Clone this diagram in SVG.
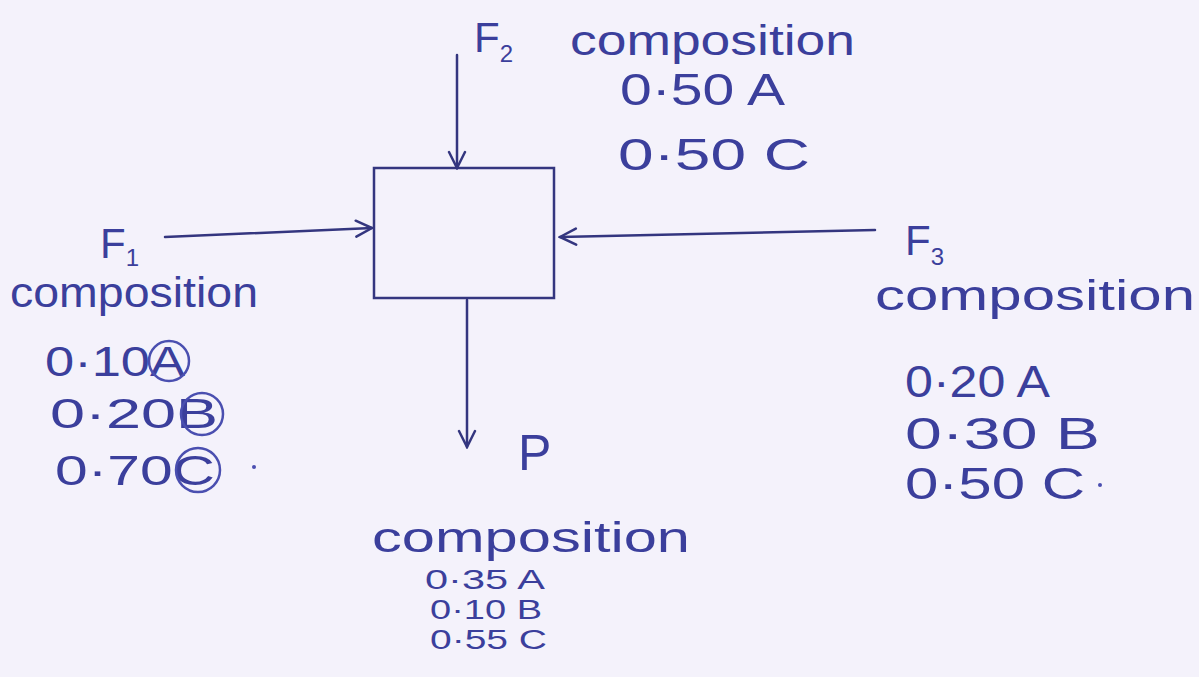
<svg xmlns="http://www.w3.org/2000/svg" width="1199" height="677" viewBox="0 0 1199 677">
<style>
.ink{fill:#3b3f9c;font-family:"Liberation Sans","DejaVu Sans",sans-serif;}
.big{font-size:42px;}
.num{font-size:44px;}
.sm{font-size:27px;}
.sub{font-size:24px;}
.ln{stroke:#34367f;stroke-width:2.5;fill:none;stroke-linecap:round;}
.circ{stroke:#4a4fb0;stroke-width:2.5;fill:none;}
</style>
<defs>
<marker id="arr" viewBox="0 0 20 20" refX="18" refY="10" markerWidth="20" markerHeight="20" markerUnits="userSpaceOnUse" orient="auto">
<polyline points="2,2 18,10 2,18" fill="none" stroke="#34367f" stroke-width="2.5" stroke-linecap="round"/>
</marker>
</defs>
<rect width="1199" height="677" fill="#f4f2fb"/>
<g id="mixer">
<rect x="374" y="168" width="180" height="130" class="ln"/>
</g>
<g id="connectors">
<line x1="457" y1="55" x2="457" y2="168" class="ln" marker-end="url(#arr)"/>
<line x1="165" y1="237" x2="372" y2="228" class="ln" marker-end="url(#arr)"/>
<line x1="875" y1="230" x2="560" y2="237" class="ln" marker-end="url(#arr)"/>
<line x1="467" y1="300" x2="467" y2="447" class="ln" marker-end="url(#arr)"/>
</g>
<g id="F2">
<text class="ink big" x="474" y="52">F<tspan class="sub" dy="10">2</tspan></text>
<text class="ink big" x="570" y="55" textLength="285" lengthAdjust="spacingAndGlyphs">composition</text>
<text class="ink num" x="620" y="105" textLength="165" lengthAdjust="spacingAndGlyphs">0·50 A</text>
<text class="ink num" x="618" y="170" textLength="192" lengthAdjust="spacingAndGlyphs">0·50 C</text>
</g>
<g id="F1">
<text class="ink big" x="100" y="258">F<tspan class="sub" dy="8">1</tspan></text>
<text class="ink big" x="10" y="307" textLength="248" lengthAdjust="spacingAndGlyphs">composition</text>
<text class="ink big" x="45" y="376" textLength="140" lengthAdjust="spacingAndGlyphs">0·10A</text>
<text class="ink big" x="50" y="428" textLength="168" lengthAdjust="spacingAndGlyphs">0·20B</text>
<text class="ink big" x="55" y="485" textLength="160" lengthAdjust="spacingAndGlyphs">0·70C</text>
<circle cx="169" cy="361" r="20" class="circ"/>
<circle cx="202" cy="414" r="21" class="circ"/>
<circle cx="198" cy="470" r="22" class="circ"/>
<circle cx="254" cy="467" r="2" fill="#4a4fb0"/>
</g>
<g id="F3">
<text class="ink big" x="905" y="255">F<tspan class="sub" dy="10">3</tspan></text>
<text class="ink big" x="875" y="310" textLength="320" lengthAdjust="spacingAndGlyphs">composition</text>
<text class="ink num" x="905" y="397" textLength="145" lengthAdjust="spacingAndGlyphs">0·20 A</text>
<text class="ink num" x="905" y="449" textLength="195" lengthAdjust="spacingAndGlyphs">0·30 B</text>
<text class="ink num" x="905" y="499" textLength="180" lengthAdjust="spacingAndGlyphs">0·50 C</text>
<circle cx="1100" cy="485" r="2" fill="#4a4fb0"/>
</g>
<g id="P">
<text class="ink" x="518" y="470" style="font-size:50px">P</text>
<text class="ink big" x="372" y="552" textLength="318" lengthAdjust="spacingAndGlyphs">composition</text>
<text class="ink sm" x="425" y="589" textLength="120" lengthAdjust="spacingAndGlyphs">0·35 A</text>
<text class="ink sm" x="430" y="619" textLength="112" lengthAdjust="spacingAndGlyphs">0·10 B</text>
<text class="ink sm" x="430" y="649" textLength="117" lengthAdjust="spacingAndGlyphs">0·55 C</text>
</g>
</svg>
